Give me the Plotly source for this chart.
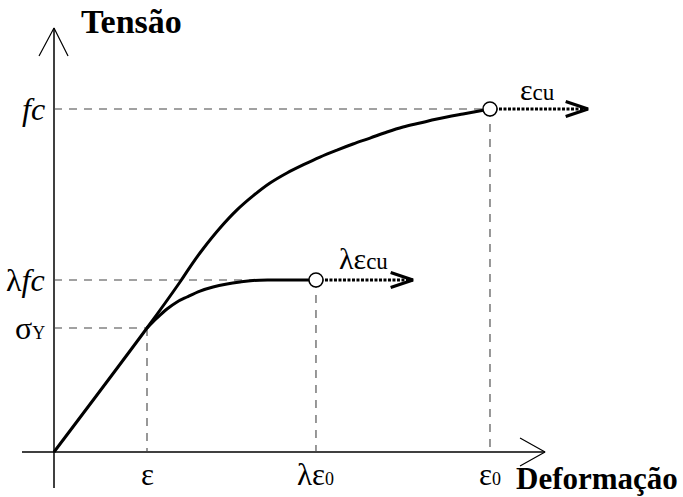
import plotly.graph_objects as go

# ---- data (strain in units of eps_y, stress in units of sigma_y) ----
upper_strain = [0.0, 1.0, 1.355, 1.484, 1.602, 1.785, 1.968, 2.140, 2.323, 2.505, 2.677,
                2.860, 3.043, 3.215, 3.398, 3.581, 3.753, 3.935, 4.118, 4.398, 4.688]
upper_stress = [0.0, 1.0, 1.371, 1.516, 1.637, 1.806, 1.952, 2.065, 2.169, 2.250, 2.315,
                2.379, 2.435, 2.484, 2.532, 2.581, 2.621, 2.653, 2.685, 2.726, 2.766]
lower_strain = [1.0, 1.108, 1.215, 1.323, 1.430, 1.570, 1.710, 1.860, 2.0, 2.140, 2.323, 2.817]
lower_stress = [1.0, 1.081, 1.153, 1.210, 1.250, 1.298, 1.331, 1.355, 1.371, 1.383, 1.387, 1.387]

eps_y, sig_y = 1.0, 1.0
lam_eps0, lam_fc = 2.817, 1.387
eps0, fc = 4.688, 2.766
lam_arrow_end, arrow_end = 3.860, 5.742

x_tick_vals = [eps_y, lam_eps0, eps0]
x_tick_text = ["ε", "λε<span style='font-size:18px'>0</span>",
               "ε<span style='font-size:18px'>0</span>"]
y_tick_vals = [fc, lam_fc, sig_y]
y_tick_text = ["<i>fc</i>", "λ<i>fc</i>", "σ<span style='font-size:18px'>Y</span>"]

FONT = "Liberation Serif, Times New Roman, serif"
fig = go.Figure()

def line(xs, ys, color="black", width=1.5, dash="solid"):
    fig.add_trace(go.Scatter(x=xs, y=ys, mode="lines", hoverinfo="skip",
                             line=dict(color=color, width=width, dash=dash)))

# axes
line([-0.344, 5.280], [0, 0])
line([0, 0], [-0.290, 3.419])
line([-0.161, 0, 0.151], [3.419 - 0.226, 3.419, 3.419 - 0.226], width=1.2)
line([5.280 - 0.269, 5.280, 5.280 - 0.269], [0.113, 0, -0.113], width=1.2)

# guide dashed lines
g = dict(color="#444444", width=1.1, dash="8px,7px")
for xv, yv in [(eps_y, sig_y), (lam_eps0, lam_fc), (eps0, fc)]:
    line([0, xv], [yv, yv], **g)
    line([xv, xv], [yv, 0], **g)

# curves
fig.add_trace(go.Scatter(x=upper_strain, y=upper_stress, mode="lines", hoverinfo="skip",
                         line=dict(color="black", width=3, shape="spline", smoothing=1.0)))
fig.add_trace(go.Scatter(x=lower_strain, y=lower_stress, mode="lines", hoverinfo="skip",
                         line=dict(color="black", width=3, shape="spline", smoothing=1.0)))

# dotted arrows
for x0, x1, yv in [(lam_eps0, lam_arrow_end, lam_fc), (eps0, arrow_end, fc)]:
    line([x0, x1], [yv, yv], width=3, dash="3px,1.5px")
    line([x1 - 0.24, x1, x1 - 0.24], [yv + 0.06, yv, yv - 0.06], width=3.2)

# circles
fig.add_trace(go.Scatter(x=[lam_eps0, eps0], y=[lam_fc, fc], mode="markers", hoverinfo="skip",
                         marker=dict(size=14, color="white", line=dict(color="black", width=1.5))))

anns = []
for v, t in zip(x_tick_vals, x_tick_text):
    anns.append(dict(x=v, y=0, text=t, showarrow=False, yanchor="top", yshift=-3,
                     font=dict(family=FONT, size=31, color="black")))
for v, t in zip(y_tick_vals, y_tick_text):
    anns.append(dict(x=-0.08, y=v, text=t, showarrow=False, xanchor="right", yanchor="middle",
                     font=dict(family=FONT, size=32, color="black")))
anns.append(dict(x=0.828, y=3.47, text="<b>Tensão</b>", showarrow=False,
                 font=dict(family=FONT, size=34, color="black")))
anns.append(dict(x=5.84, y=-0.21, text="<b>Deformação</b>", showarrow=False,
                 font=dict(family=FONT, size=31, color="black")))
anns.append(dict(x=3.33, y=1.56, text="λε<span style='font-size:23px'>cu</span>", showarrow=False,
                 font=dict(family=FONT, size=30, color="black")))
anns.append(dict(x=5.20, y=2.92, text="ε<span style='font-size:23px'>cu</span>", showarrow=False,
                 font=dict(family=FONT, size=30, color="black")))

fig.update_layout(
    width=683, height=497, margin=dict(l=0, r=0, t=0, b=0),
    paper_bgcolor="white", plot_bgcolor="white", showlegend=False,
    xaxis=dict(range=[-0.5806, 6.7634], visible=False, fixedrange=True),
    yaxis=dict(range=[-0.3629, 3.6452], visible=False, fixedrange=True),
    annotations=anns,
)
fig.write_html("out.html", config={"displayModeBar": False},
               post_script="document.body.style.margin='0';")
